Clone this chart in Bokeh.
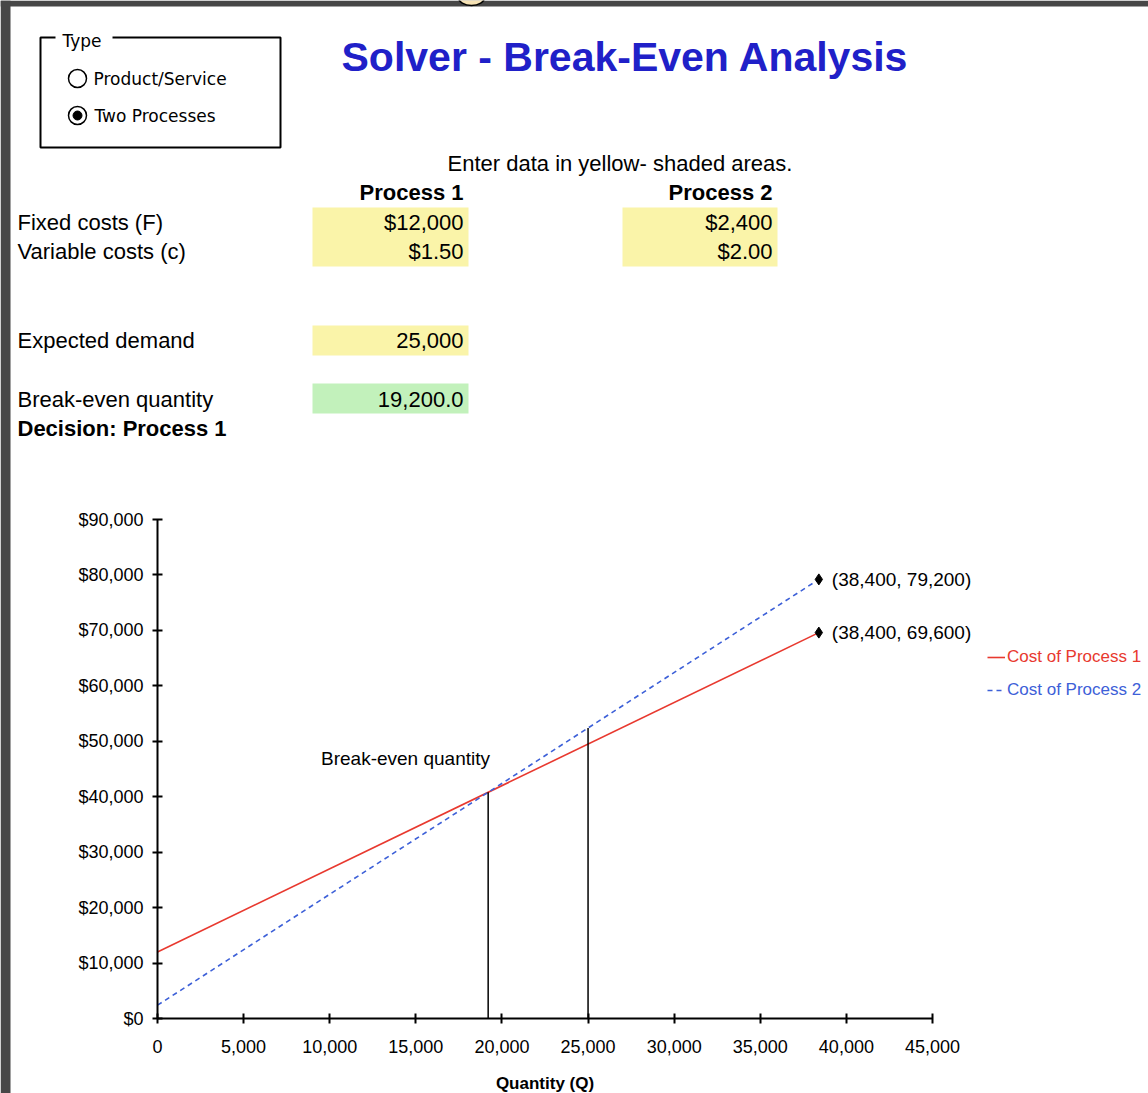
from bokeh.plotting import figure
from bokeh.models import (Range1d, FixedTicker, NumeralTickFormatter, Legend,
                          LegendItem, Label, LabelSet, ColumnDataSource)
from bokeh.core.properties import value
from bokeh.embed import file_html
from bokeh.resources import INLINE

# ---------------- data ----------------
type_options = ["Product/Service", "Two Processes"]
selected_type = "Two Processes"
process_names = ["Process 1", "Process 2"]
fixed_costs = [12000, 2400]
variable_costs = [1.50, 2.00]
expected_demand = 25000
break_even_quantity = 19200.0
decision = "Process 1"
row_labels = ["Fixed costs (F)", "Variable costs (c)", "Expected demand", "Break-even quantity"]

series_names = ["Cost of Process 1", "Cost of Process 2"]
quantity = [0, 38400]
cost_process_1 = [12000, 69600]
cost_process_2 = [2400, 79200]
end_quantity = [38400, 38400]
end_cost = [79200, 69600]
vline_quantity = [19200, 25000]
vline_cost = [40800, 52400]
x_ticks = [0, 5000, 10000, 15000, 20000, 25000, 30000, 35000, 40000, 45000]
y_ticks = [0, 10000, 20000, 30000, 40000, 50000, 60000, 70000, 80000, 90000]

# ---------------- layout constants (pixels) ----------------
W, H = 1148, 1093
X0_PX, XMAX_PX = 157, 932        # pixel of Q = 0 and Q = 45000
Y0_PX, YMAX_PX = 1018, 519       # pixel of $0 and $90,000
x_lo, x_hi = x_ticks[0], x_ticks[-1]
y_lo, y_hi = y_ticks[0], y_ticks[-1]
sx = (x_hi - x_lo) / (XMAX_PX - X0_PX)
sy = (y_hi - y_lo) / (Y0_PX - YMAX_PX)

SHEET_FONT = "Liberation Sans"
CHART_FONT = "Liberation Sans"
RADIO_FONT = "DejaVu Sans"
RED = "#e8392f"
BLUE = "#3d60d8"

p = figure(width=W, height=H,
           x_range=Range1d(x_lo - X0_PX * sx, x_lo + (W - X0_PX) * sx),
           y_range=Range1d(y_lo - (H - Y0_PX) * sy, y_lo + Y0_PX * sy),
           output_backend="svg", toolbar_location=None, min_border=0,
           outline_line_color=None)
p.extra_x_ranges = {"px": Range1d(0, W)}
p.extra_y_ranges = {"py": Range1d(H, 0)}
p.grid.grid_line_color = None

PX = dict(x_range_name="px", y_range_name="py")

# ---------------- spreadsheet area ----------------
p.quad(left=[0, 0], right=[W, 10], top=[0, 0], bottom=[6, H], fill_color="#474747",
       line_color=None, **PX)
p.ellipse(x=[471], y=[-3], width=26, height=16, fill_color="#f6e2b4", line_color="black",
          line_width=1.5, **PX)

# group box
p.quad(left=[40], right=[280], top=[37], bottom=[147], fill_color=None,
       line_color="black", line_width=2, **PX)
p.quad(left=[55], right=[112], top=[30], bottom=[45], fill_color="white", line_color=None, **PX)
p.text(x=[62], y=[40], text=["Type"], text_font=value(RADIO_FONT), text_font_size="17px",
       text_baseline="middle", text_color="black", **PX)
radio_y = [78, 115]
p.scatter(x=[77, 77], y=radio_y, size=18, fill_color="white", line_color="black",
          line_width=1.5, **PX)
sel = type_options.index(selected_type)
p.scatter(x=[77], y=[radio_y[sel]], size=9, fill_color="black", line_color="black", **PX)
p.text(x=[93, 94], y=radio_y, text=type_options, text_font=value(RADIO_FONT),
       text_font_size="17px", text_baseline="middle", text_color="black", **PX)

# title
p.text(x=[341], y=[56], text=["Solver - Break-Even Analysis"], text_font=value(SHEET_FONT),
       text_font_size="41px", text_font_style="bold", text_color="#2020c8",
       text_baseline="middle", **PX)

p.text(x=[447], y=[163], text=["Enter data in yellow- shaded areas."],
       text_font=value(SHEET_FONT), text_font_size="22px", text_baseline="middle",
       text_color="black", **PX)

# cells
p.quad(left=[312, 622], right=[468, 777], top=[207, 207], bottom=[266, 266],
       fill_color="#faf4a9", line_color=None, **PX)
p.quad(left=[312], right=[468], top=[325], bottom=[355], fill_color="#faf4a9",
       line_color=None, **PX)
p.quad(left=[312], right=[468], top=[383], bottom=[413], fill_color="#c2f1bb",
       line_color=None, **PX)

col_right = [463, 772]
cell = dict(text_font=value(SHEET_FONT), text_font_size="22px", text_baseline="middle",
            text_color="black", **PX)
p.text(x=col_right, y=[192, 192], text=process_names, text_font_style="bold",
       text_align="right", **cell)
p.text(x=col_right, y=[222, 222], text=[f"${v:,.0f}" for v in fixed_costs],
       text_align="right", **cell)
p.text(x=col_right, y=[251, 251], text=[f"${v:,.2f}" for v in variable_costs],
       text_align="right", **cell)
p.text(x=[463], y=[340], text=[f"{expected_demand:,}"], text_align="right", **cell)
p.text(x=[463], y=[399], text=[f"{break_even_quantity:,.1f}"], text_align="right", **cell)
p.text(x=[17] * 4, y=[222, 251, 340, 399], text=row_labels, **cell)
p.text(x=[17], y=[428], text=[f"Decision: {decision}"], text_font_style="bold", **cell)

# ---------------- chart ----------------
r1 = p.line(quantity, cost_process_1, line_color=RED, line_width=1.6)
r2 = p.line(quantity, cost_process_2, line_color=BLUE, line_width=1.6, line_dash="5 4")
p.segment(x0=vline_quantity, y0=[0, 0], x1=vline_quantity, y1=vline_cost,
          line_color="black", line_width=1.5)
p.scatter(end_quantity, end_cost, marker="diamond", size=11, color="black")

lab_src = ColumnDataSource(dict(x=end_quantity, y=end_cost,
                                t=[f"({q:,}, {c:,})" for q, c in zip(end_quantity, end_cost)]))
p.add_layout(LabelSet(x="x", y="y", text="t", source=lab_src, x_offset=13,
                      text_font=value(CHART_FONT), text_font_size="19px",
                      text_baseline="middle", text_color="black"))

p.add_layout(Label(x=14400, y=46900, text="Break-even quantity", text_align="center",
                   text_baseline="middle", text_font=CHART_FONT,
                   text_font_size="19px", text_color="black"))

for ax in (p.xaxis[0], p.yaxis[0]):
    ax.fixed_location = 0
    ax.axis_line_color = "black"
    ax.axis_line_width = 2
    ax.major_tick_line_color = "black"
    ax.major_tick_line_width = 2
    ax.major_tick_in = 5
    ax.major_tick_out = 5
    ax.minor_tick_line_color = None
    ax.major_label_text_font = CHART_FONT
    ax.major_label_text_font_size = "18px"
    ax.major_label_text_color = "black"

p.xaxis.bounds = (x_lo, x_hi)
p.xaxis.ticker = FixedTicker(ticks=x_ticks)
p.xaxis.formatter = NumeralTickFormatter(format="0,0")
p.xaxis.major_label_standoff = 16
p.xaxis.axis_label = "Quantity (Q)"
p.xaxis.axis_label_text_font = CHART_FONT
p.xaxis.axis_label_text_font_size = "17px"
p.xaxis.axis_label_text_font_style = "bold"
p.xaxis.axis_label_text_color = "black"
p.xaxis.axis_label_standoff = 18

p.yaxis.bounds = (y_lo, y_hi)
p.yaxis.ticker = FixedTicker(ticks=y_ticks)
p.yaxis.formatter = NumeralTickFormatter(format="$0,0")
p.yaxis.major_label_standoff = 9

# legend entries: location is the bottom-left corner, measured from the canvas bottom
for rend, name, col, center_px in ((r1, series_names[0], RED, 657),
                                   (r2, series_names[1], BLUE, 690)):
    leg = Legend(items=[LegendItem(label=name, renderers=[rend])],
                 location=(987, H - (center_px + 10)),
                 glyph_width=18, glyph_height=20, label_height=20, label_standoff=2,
                 padding=0, margin=0, spacing=0, border_line_color=None,
                 background_fill_alpha=0, label_text_font=CHART_FONT,
                 label_text_font_size="17px", label_text_color=col)
    p.add_layout(leg)

open("out.html", "w").write(file_html(p, INLINE))
